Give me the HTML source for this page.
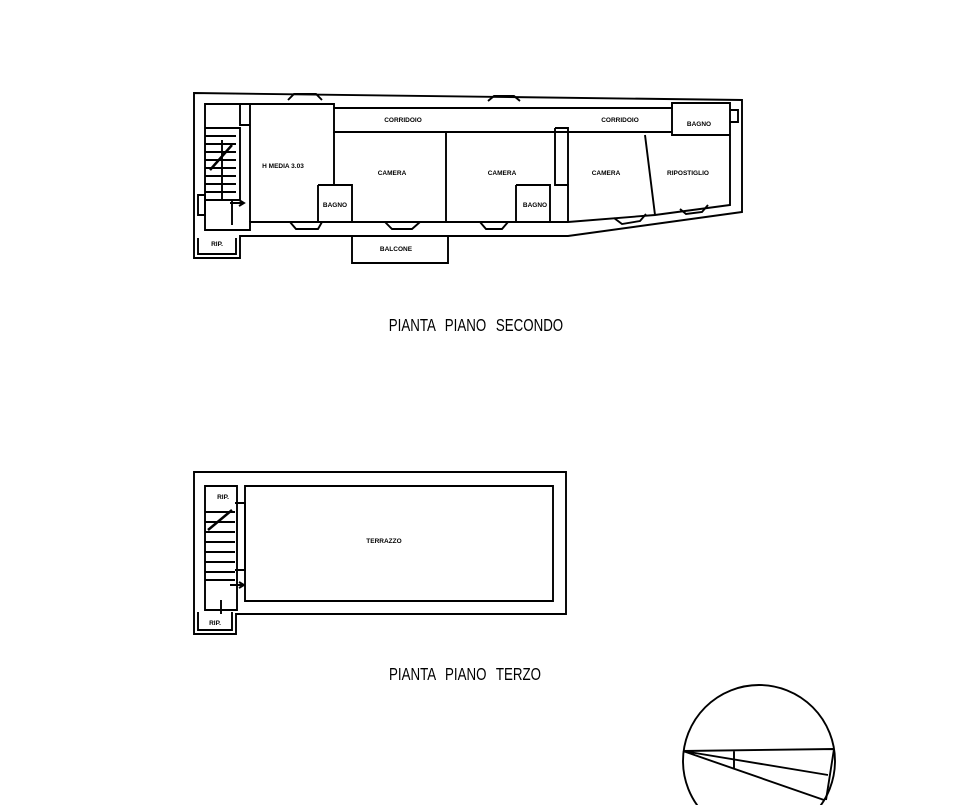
<!DOCTYPE html>
<html><head><meta charset="utf-8"><style>
html,body{margin:0;padding:0;background:#fff;}
svg{display:block}
text{font-family:"Liberation Sans",sans-serif;fill:#000}
</style></head><body>
<svg width="956" height="805" viewBox="0 0 956 805" xmlns="http://www.w3.org/2000/svg">
<g fill="none" stroke="#000" stroke-width="1.9">
<path d="M194,93 L742,100 L742,212 L568,236 L448,236 L352,236 L240,236 L240,258 L194,258 Z"/>
<path d="M205,104 L334,104 L334,108 L672,108 L672,103 L730,103 L730,205 L655,215 L568,222 L250,222 L250,230 L205,230 Z"/>
<path d="M334,108 L334,132 L672,132"/>
<path d="M672,103 L672,135 L730,135"/>
<path d="M250,104 L250,222"/>
<path d="M334,132 L334,185"/>
<path d="M446,132 L446,222"/>
<path d="M555,128 L555,185 L568,185 L568,222"/>
<path d="M555,128 L568,128 L568,185"/>
<path d="M645,135 L655,215"/>
<path d="M318,185 L352,185 L352,222"/><path d="M318,185 L318,222"/>
<path d="M516,185 L550,185 L550,222"/><path d="M516,185 L516,222"/>
<path d="M352,236 L352,263 L448,263 L448,236"/>
<path d="M198,238 L198,254 L236,254 L236,238"/>
<path d="M205,128 L240,128 L240,200 L205,200"/>
<path d="M205,136 H236 M205,144 H236 M205,152 H236 M205,160 H236 M205,168 H236 M205,176 H236 M205,184 H236 M205,192 H236"/>
<path d="M210,170 L232,145" stroke-width="2.5"/>
<path d="M222,140 L222,200"/>
<path d="M240,104 L240,125 L250,125"/>
<path d="M198,195 L205,195 L205,215 L198,215 Z"/>
<path d="M232,200 L232,225"/>
<path d="M230,203 L244,203 M239,200 L244,203 L239,206"/>
<path d="M288,100 L294,94 L316,94 L322,100"/>
<path d="M488,101 L494,96 L514,96 L520,101"/>
<path d="M290,222 L296,229 L318,229 L322,222"/>
<path d="M385,222 L392,229 L412,229 L420,222"/>
<path d="M480,222 L486,229 L502,229 L508,222"/>
<path d="M614,218 L622,224 L640,221 L646,214"/>
<path d="M680,209 L686,214 L702,212 L708,205"/>
<path d="M730,110 L738,110 L738,122 L730,122"/>
<path d="M194,472 L566,472 L566,614 L236,614 L236,634 L194,634 Z"/>
<path d="M245,486 L553,486 L553,601 L245,601 Z"/>
<path d="M205,486 L237,486 L237,610 L205,610 Z"/>
<path d="M198,612 L198,630 L232,630 L232,612"/>
<path d="M205,512 L235,512"/>
<path d="M235,503 L245,503 L245,570 L235,570"/>
<path d="M205,522 H235 M205,532 H235 M205,542 H235 M205,552 H235 M205,562 H235 M205,572 H235"/>
<path d="M208,530 L232,510" stroke-width="2.5"/>
<path d="M205,580 L235,580"/>
<path d="M230,585 L244,585 M239,582 L244,585 L239,588"/>
<path d="M221,600 L221,614"/>
<circle cx="759" cy="761" r="76"/>
<path d="M683,751 L834,749 M683,751 L828,775 M683,751 L824,800 M734,751 L734,768 M834,749 L826,800"/>
</g>
<g font-size="6.5" text-anchor="middle" font-weight="bold">
<text x="403" y="122">CORRIDOIO</text>
<text x="620" y="122">CORRIDOIO</text>
<text x="699" y="126">BAGNO</text>
<text x="283" y="168">H MEDIA 3.03</text>
<text x="392" y="175">CAMERA</text>
<text x="502" y="175">CAMERA</text>
<text x="606" y="175">CAMERA</text>
<text x="688" y="175">RIPOSTIGLIO</text>
<text x="335" y="207">BAGNO</text>
<text x="535" y="207">BAGNO</text>
<text x="396" y="251">BALCONE</text>
<text x="217" y="246">RIP.</text>
<text x="384" y="543">TERRAZZO</text>
<text x="223" y="499">RIP.</text>
<text x="215" y="625">RIP.</text>
</g>
<text x="476" y="331" font-size="18" text-anchor="middle" word-spacing="8" transform="translate(476,0) scale(0.74,1) translate(-476,0)">PIANTA PIANO SECONDO</text>
<text x="465" y="680" font-size="18" text-anchor="middle" word-spacing="8" transform="translate(465,0) scale(0.74,1) translate(-465,0)">PIANTA PIANO TERZO</text>
</svg>
</body></html>
